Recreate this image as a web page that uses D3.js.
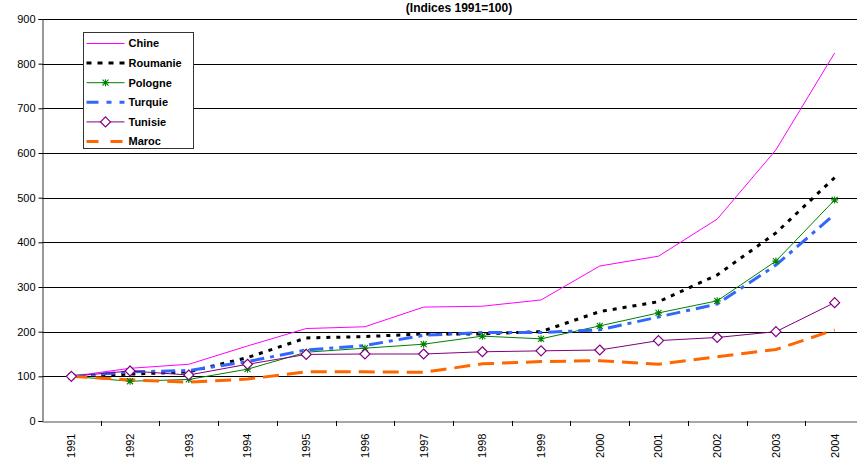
<!DOCTYPE html>
<html>
<head>
<meta charset="utf-8">
<script src="https://cdn.jsdelivr.net/npm/d3@7"></script>
<style>
  body { margin: 0; background: #fff; }
  svg { font-family: Arial, "Liberation Sans", sans-serif; display: block; }
</style>
</head>
<body>
<div id="root"></div>
<script>
const years = ["1991", "1992", "1993", "1994", "1995", "1996", "1997", "1998", "1999", "2000", "2001", "2002", "2003", "2004"];
const chine = [100, 118, 127, 168, 207, 211, 255, 257, 271, 347, 369, 452, 607, 824];
const roumanie = [100, 105, 110, 142, 186, 189, 195, 195, 200, 245, 267, 327, 421, 545];
const pologne = [100, 89, 93, 116, 154, 163, 172, 190, 184, 213, 242, 269, 358, 495];
const turquie = [100, 110, 113, 133, 159, 169, 192, 198, 198, 204, 233, 262, 349, 463];
const tunisie = [100, 112, 103, 127, 149, 150, 150, 155, 157, 159, 180, 187, 200, 265];
const maroc = [100, 92, 87, 94, 110, 110, 109, 128, 133, 135, 127, 144, 160, 204];
const yTicks = [0, 100, 200, 300, 400, 500, 600, 700, 800, 900];

const series = [
  { name: "Chine", values: chine, color: "#ff00ff", width: 1, dash: null, legendDash: null, marker: null },
  { name: "Roumanie", values: roumanie, color: "#000000", width: 3, dash: "4,6", legendDash: "5,6", marker: null },
  { name: "Pologne", values: pologne, color: "#008000", width: 1, dash: null, legendDash: null, marker: "star" },
  { name: "Turquie", values: turquie, color: "#3366ff", width: 3, dash: "14,6,4,6", legendDash: "12,8,5,8", marker: null },
  { name: "Tunisie", values: tunisie, color: "#800080", width: 1, dash: null, legendDash: null, marker: "diamond" },
  { name: "Maroc", values: maroc, color: "#ff6600", width: 3, dash: "16,8", legendDash: "12,12", marker: null }
];

const width = 857;
const height = 458;
const plot = { left: 42, right: 864, top: 19, bottom: 421 };

const svg = d3.select("#root").append("svg")
  .attr("width", width)
  .attr("height", height);

const x = d3.scaleBand().domain(years).range([plot.left, plot.right]);
const y = d3.scaleLinear().domain([0, 900]).range([plot.bottom, plot.top]);

// gridlines
svg.append("g")
  .selectAll("line")
  .data(yTicks.filter(d => d > 0))
  .join("line")
  .attr("x1", plot.left)
  .attr("x2", plot.right)
  .attr("y1", d => Math.round(y(d)) + 0.5)
  .attr("y2", d => Math.round(y(d)) + 0.5)
  .attr("stroke", "#000")
  .attr("stroke-width", 1);

// y axis
const yAxis = svg.append("g")
  .attr("transform", `translate(${plot.left + 0.5},0)`)
  .call(d3.axisLeft(y).tickValues(yTicks).tickSize(4).tickPadding(3).tickFormat(d3.format("d")));
yAxis.selectAll("text").attr("font-size", 11).attr("fill", "#000").attr("font-family", "Arial, 'Liberation Sans', sans-serif");
yAxis.selectAll("line").attr("stroke", "#000");
yAxis.select(".domain").attr("stroke", "#333");

// x axis
const xAxis = svg.append("g")
  .attr("transform", `translate(0,${Math.round(plot.bottom) + 0.5})`)
  .call(d3.axisBottom(x).tickSize(0).tickFormat(d => d));
xAxis.select(".domain").attr("stroke", "#888").attr("stroke-width", 1.5);
xAxis.selectAll(".tick text")
  .attr("font-size", 11)
  .attr("fill", "#000")
  .attr("font-family", "Arial, 'Liberation Sans', sans-serif")
  .attr("text-anchor", "end")
  .attr("dy", "0.35em")
  .attr("transform", "rotate(-90)")
  .attr("x", -12)
  .attr("y", 0);

// band boundary ticks
svg.append("g")
  .selectAll("line")
  .data(years)
  .join("line")
  .attr("x1", d => Math.round(x(d) + x.bandwidth()) + 0.5)
  .attr("x2", d => Math.round(x(d) + x.bandwidth()) + 0.5)
  .attr("y1", plot.bottom)
  .attr("y2", plot.bottom + 5)
  .attr("stroke", "#000");

// lines
const line = d3.line()
  .x((d, i) => x(years[i]) + x.bandwidth() / 2)
  .y(d => y(d));

series.forEach(s => {
  svg.append("path")
    .datum(s.values)
    .attr("fill", "none")
    .attr("stroke", s.color)
    .attr("stroke-width", s.width)
    .attr("stroke-dasharray", s.dash)
    .attr("d", line);
});

const starPath = "M-3,-3L3,3M-3,3L3,-3M0,-3.5L0,3.5M-3.5,0L3.5,0";
const diamondPath = "M0,-5L5,0L0,5L-5,0Z";

const drawMarker = (g, type, color) => {
  if (type === "star") {
    g.append("path").attr("d", starPath).attr("stroke", color).attr("stroke-width", 1.1).attr("fill", "none");
  } else if (type === "diamond") {
    g.append("path").attr("d", diamondPath).attr("stroke", color).attr("stroke-width", 1.2).attr("fill", "#fff");
  }
};

series.filter(s => s.marker).forEach(s => {
  s.values.forEach((v, i) => {
    const g = svg.append("g")
      .attr("transform", `translate(${x(years[i]) + x.bandwidth() / 2},${y(v)})`);
    drawMarker(g, s.marker, s.color);
  });
});

// title
svg.append("text")
  .attr("x", 459)
  .attr("y", 12)
  .attr("text-anchor", "middle")
  .attr("font-size", 12)
  .attr("font-weight", "bold")
  .text("(Indices 1991=100)");

// legend
const legend = svg.append("g").attr("transform", "translate(83.5,32.5)");
legend.append("rect")
  .attr("width", 110)
  .attr("height", 116)
  .attr("fill", "#fff")
  .attr("stroke", "#333");

series.forEach((s, i) => {
  const row = legend.append("g").attr("transform", `translate(0,${11 + i * 19.6})`);
  row.append("line")
    .attr("x1", 3)
    .attr("x2", 41)
    .attr("stroke", s.color)
    .attr("stroke-width", s.width)
    .attr("stroke-dasharray", s.legendDash);
  if (s.marker) {
    const m = row.append("g").attr("transform", "translate(22,0)");
    drawMarker(m, s.marker, s.color);
  }
  row.append("text")
    .attr("x", 45)
    .attr("y", 0)
    .attr("dy", "0.35em")
    .attr("font-size", 11)
    .attr("font-weight", "bold")
    .text(s.name);
});
</script>
</body>
</html>
